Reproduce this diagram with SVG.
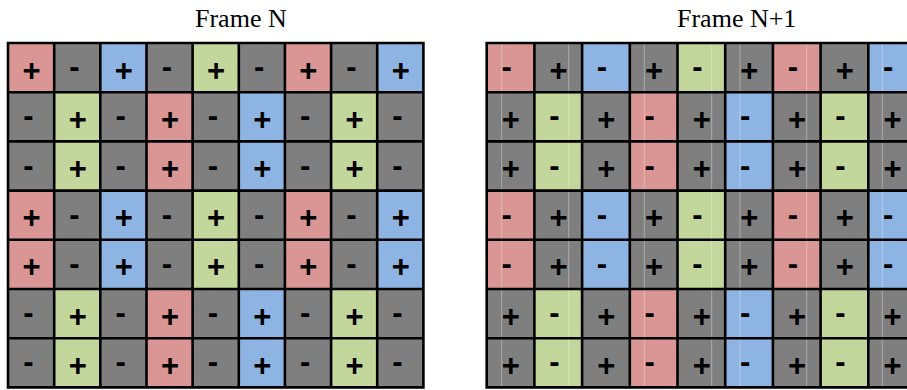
<svg xmlns="http://www.w3.org/2000/svg" width="907" height="390" viewBox="0 0 907 390">
<style>
.r{fill:#D99694}.g{fill:#7F7F7F}.b{fill:#8EB4E3}.n{fill:#C3D69B}
.s{font-family:"Liberation Sans",Arial,sans-serif;font-size:31px;font-weight:bold;fill:#000;text-anchor:middle}
.t{font-family:"Liberation Serif","Times New Roman",serif;font-size:26px;fill:#000}
.grid{stroke:#000;stroke-width:2.6;fill:none}
.art{stroke:#fff;stroke-opacity:0.35;stroke-width:1}
</style>
<rect width="907" height="390" fill="#fff"/>
<text class="t" x="195" y="27">Frame N</text>
<text class="t" x="677" y="27">Frame N+1</text>

<g id="frameN">
<g id="L11" transform="translate(8,43)"><rect class="r" width="46.2" height="49.2"/><text class="s" x="23.5" y="37.5">+</text></g>
<g id="L12" transform="translate(54.2,43)"><rect class="g" width="46.2" height="49.2"/><text class="s" x="20.3" y="34.3">-</text></g>
<g id="L13" transform="translate(100.3,43)"><rect class="b" width="46.2" height="49.2"/><text class="s" x="23.5" y="37.5">+</text></g>
<g id="L14" transform="translate(146.5,43)"><rect class="g" width="46.2" height="49.2"/><text class="s" x="20.3" y="34.3">-</text></g>
<g id="L15" transform="translate(192.6,43)"><rect class="n" width="46.2" height="49.2"/><text class="s" x="23.5" y="37.5">+</text></g>
<g id="L16" transform="translate(238.8,43)"><rect class="g" width="46.2" height="49.2"/><text class="s" x="20.3" y="34.3">-</text></g>
<g id="L17" transform="translate(284.9,43)"><rect class="r" width="46.2" height="49.2"/><text class="s" x="23.5" y="37.5">+</text></g>
<g id="L18" transform="translate(331.1,43)"><rect class="g" width="46.2" height="49.2"/><text class="s" x="20.3" y="34.3">-</text></g>
<g id="L19" transform="translate(377.2,43)"><rect class="b" width="46.2" height="49.2"/><text class="s" x="23.5" y="37.5">+</text></g>

<g id="L21" transform="translate(8,92.2)"><rect class="g" width="46.2" height="49.2"/><text class="s" x="20.3" y="34.3">-</text></g>
<g id="L22" transform="translate(54.2,92.2)"><rect class="n" width="46.2" height="49.2"/><text class="s" x="23.5" y="37.5">+</text></g>
<g id="L23" transform="translate(100.3,92.2)"><rect class="g" width="46.2" height="49.2"/><text class="s" x="20.3" y="34.3">-</text></g>
<g id="L24" transform="translate(146.5,92.2)"><rect class="r" width="46.2" height="49.2"/><text class="s" x="23.5" y="37.5">+</text></g>
<g id="L25" transform="translate(192.6,92.2)"><rect class="g" width="46.2" height="49.2"/><text class="s" x="20.3" y="34.3">-</text></g>
<g id="L26" transform="translate(238.8,92.2)"><rect class="b" width="46.2" height="49.2"/><text class="s" x="23.5" y="37.5">+</text></g>
<g id="L27" transform="translate(284.9,92.2)"><rect class="g" width="46.2" height="49.2"/><text class="s" x="20.3" y="34.3">-</text></g>
<g id="L28" transform="translate(331.1,92.2)"><rect class="n" width="46.2" height="49.2"/><text class="s" x="23.5" y="37.5">+</text></g>
<g id="L29" transform="translate(377.2,92.2)"><rect class="g" width="46.2" height="49.2"/><text class="s" x="20.3" y="34.3">-</text></g>

<g id="L31" transform="translate(8,141.4)"><rect class="g" width="46.2" height="49.2"/><text class="s" x="20.3" y="34.3">-</text></g>
<g id="L32" transform="translate(54.2,141.4)"><rect class="n" width="46.2" height="49.2"/><text class="s" x="23.5" y="37.5">+</text></g>
<g id="L33" transform="translate(100.3,141.4)"><rect class="g" width="46.2" height="49.2"/><text class="s" x="20.3" y="34.3">-</text></g>
<g id="L34" transform="translate(146.5,141.4)"><rect class="r" width="46.2" height="49.2"/><text class="s" x="23.5" y="37.5">+</text></g>
<g id="L35" transform="translate(192.6,141.4)"><rect class="g" width="46.2" height="49.2"/><text class="s" x="20.3" y="34.3">-</text></g>
<g id="L36" transform="translate(238.8,141.4)"><rect class="b" width="46.2" height="49.2"/><text class="s" x="23.5" y="37.5">+</text></g>
<g id="L37" transform="translate(284.9,141.4)"><rect class="g" width="46.2" height="49.2"/><text class="s" x="20.3" y="34.3">-</text></g>
<g id="L38" transform="translate(331.1,141.4)"><rect class="n" width="46.2" height="49.2"/><text class="s" x="23.5" y="37.5">+</text></g>
<g id="L39" transform="translate(377.2,141.4)"><rect class="g" width="46.2" height="49.2"/><text class="s" x="20.3" y="34.3">-</text></g>

<g id="L41" transform="translate(8,190.6)"><rect class="r" width="46.2" height="49.2"/><text class="s" x="23.5" y="37.5">+</text></g>
<g id="L42" transform="translate(54.2,190.6)"><rect class="g" width="46.2" height="49.2"/><text class="s" x="20.3" y="34.3">-</text></g>
<g id="L43" transform="translate(100.3,190.6)"><rect class="b" width="46.2" height="49.2"/><text class="s" x="23.5" y="37.5">+</text></g>
<g id="L44" transform="translate(146.5,190.6)"><rect class="g" width="46.2" height="49.2"/><text class="s" x="20.3" y="34.3">-</text></g>
<g id="L45" transform="translate(192.6,190.6)"><rect class="n" width="46.2" height="49.2"/><text class="s" x="23.5" y="37.5">+</text></g>
<g id="L46" transform="translate(238.8,190.6)"><rect class="g" width="46.2" height="49.2"/><text class="s" x="20.3" y="34.3">-</text></g>
<g id="L47" transform="translate(284.9,190.6)"><rect class="r" width="46.2" height="49.2"/><text class="s" x="23.5" y="37.5">+</text></g>
<g id="L48" transform="translate(331.1,190.6)"><rect class="g" width="46.2" height="49.2"/><text class="s" x="20.3" y="34.3">-</text></g>
<g id="L49" transform="translate(377.2,190.6)"><rect class="b" width="46.2" height="49.2"/><text class="s" x="23.5" y="37.5">+</text></g>

<g id="L51" transform="translate(8,239.8)"><rect class="r" width="46.2" height="49.2"/><text class="s" x="23.5" y="37.5">+</text></g>
<g id="L52" transform="translate(54.2,239.8)"><rect class="g" width="46.2" height="49.2"/><text class="s" x="20.3" y="34.3">-</text></g>
<g id="L53" transform="translate(100.3,239.8)"><rect class="b" width="46.2" height="49.2"/><text class="s" x="23.5" y="37.5">+</text></g>
<g id="L54" transform="translate(146.5,239.8)"><rect class="g" width="46.2" height="49.2"/><text class="s" x="20.3" y="34.3">-</text></g>
<g id="L55" transform="translate(192.6,239.8)"><rect class="n" width="46.2" height="49.2"/><text class="s" x="23.5" y="37.5">+</text></g>
<g id="L56" transform="translate(238.8,239.8)"><rect class="g" width="46.2" height="49.2"/><text class="s" x="20.3" y="34.3">-</text></g>
<g id="L57" transform="translate(284.9,239.8)"><rect class="r" width="46.2" height="49.2"/><text class="s" x="23.5" y="37.5">+</text></g>
<g id="L58" transform="translate(331.1,239.8)"><rect class="g" width="46.2" height="49.2"/><text class="s" x="20.3" y="34.3">-</text></g>
<g id="L59" transform="translate(377.2,239.8)"><rect class="b" width="46.2" height="49.2"/><text class="s" x="23.5" y="37.5">+</text></g>

<g id="L61" transform="translate(8,289)"><rect class="g" width="46.2" height="49.2"/><text class="s" x="20.3" y="34.3">-</text></g>
<g id="L62" transform="translate(54.2,289)"><rect class="n" width="46.2" height="49.2"/><text class="s" x="23.5" y="37.5">+</text></g>
<g id="L63" transform="translate(100.3,289)"><rect class="g" width="46.2" height="49.2"/><text class="s" x="20.3" y="34.3">-</text></g>
<g id="L64" transform="translate(146.5,289)"><rect class="r" width="46.2" height="49.2"/><text class="s" x="23.5" y="37.5">+</text></g>
<g id="L65" transform="translate(192.6,289)"><rect class="g" width="46.2" height="49.2"/><text class="s" x="20.3" y="34.3">-</text></g>
<g id="L66" transform="translate(238.8,289)"><rect class="b" width="46.2" height="49.2"/><text class="s" x="23.5" y="37.5">+</text></g>
<g id="L67" transform="translate(284.9,289)"><rect class="g" width="46.2" height="49.2"/><text class="s" x="20.3" y="34.3">-</text></g>
<g id="L68" transform="translate(331.1,289)"><rect class="n" width="46.2" height="49.2"/><text class="s" x="23.5" y="37.5">+</text></g>
<g id="L69" transform="translate(377.2,289)"><rect class="g" width="46.2" height="49.2"/><text class="s" x="20.3" y="34.3">-</text></g>

<g id="L71" transform="translate(8,338.2)"><rect class="g" width="46.2" height="49.2"/><text class="s" x="20.3" y="34.3">-</text></g>
<g id="L72" transform="translate(54.2,338.2)"><rect class="n" width="46.2" height="49.2"/><text class="s" x="23.5" y="37.5">+</text></g>
<g id="L73" transform="translate(100.3,338.2)"><rect class="g" width="46.2" height="49.2"/><text class="s" x="20.3" y="34.3">-</text></g>
<g id="L74" transform="translate(146.5,338.2)"><rect class="r" width="46.2" height="49.2"/><text class="s" x="23.5" y="37.5">+</text></g>
<g id="L75" transform="translate(192.6,338.2)"><rect class="g" width="46.2" height="49.2"/><text class="s" x="20.3" y="34.3">-</text></g>
<g id="L76" transform="translate(238.8,338.2)"><rect class="b" width="46.2" height="49.2"/><text class="s" x="23.5" y="37.5">+</text></g>
<g id="L77" transform="translate(284.9,338.2)"><rect class="g" width="46.2" height="49.2"/><text class="s" x="20.3" y="34.3">-</text></g>
<g id="L78" transform="translate(331.1,338.2)"><rect class="n" width="46.2" height="49.2"/><text class="s" x="23.5" y="37.5">+</text></g>
<g id="L79" transform="translate(377.2,338.2)"><rect class="g" width="46.2" height="49.2"/><text class="s" x="20.3" y="34.3">-</text></g>
</g>

<g id="frameN1">
<g id="R11" transform="translate(486.7,43)"><rect class="r" width="47.7" height="49.2"/><text class="s" x="19.9" y="34.3">-</text></g>
<g id="R12" transform="translate(534.4,43)"><rect class="g" width="47.7" height="49.2"/><text class="s" x="24.2" y="37.5">+</text></g>
<g id="R13" transform="translate(582.1,43)"><rect class="b" width="47.7" height="49.2"/><text class="s" x="19.9" y="34.3">-</text></g>
<g id="R14" transform="translate(629.8,43)"><rect class="g" width="47.7" height="49.2"/><text class="s" x="24.2" y="37.5">+</text></g>
<g id="R15" transform="translate(677.5,43)"><rect class="n" width="47.7" height="49.2"/><text class="s" x="19.9" y="34.3">-</text></g>
<g id="R16" transform="translate(725.2,43)"><rect class="g" width="47.7" height="49.2"/><text class="s" x="24.2" y="37.5">+</text></g>
<g id="R17" transform="translate(772.9,43)"><rect class="r" width="47.7" height="49.2"/><text class="s" x="19.9" y="34.3">-</text></g>
<g id="R18" transform="translate(820.6,43)"><rect class="g" width="47.7" height="49.2"/><text class="s" x="24.2" y="37.5">+</text></g>
<g id="R19" transform="translate(868.3,43)"><rect class="b" width="47.7" height="49.2"/><text class="s" x="19.9" y="34.3">-</text></g>

<g id="R21" transform="translate(486.7,92.2)"><rect class="g" width="47.7" height="49.2"/><text class="s" x="24.2" y="37.5">+</text></g>
<g id="R22" transform="translate(534.4,92.2)"><rect class="n" width="47.7" height="49.2"/><text class="s" x="19.9" y="34.3">-</text></g>
<g id="R23" transform="translate(582.1,92.2)"><rect class="g" width="47.7" height="49.2"/><text class="s" x="24.2" y="37.5">+</text></g>
<g id="R24" transform="translate(629.8,92.2)"><rect class="r" width="47.7" height="49.2"/><text class="s" x="19.9" y="34.3">-</text></g>
<g id="R25" transform="translate(677.5,92.2)"><rect class="g" width="47.7" height="49.2"/><text class="s" x="24.2" y="37.5">+</text></g>
<g id="R26" transform="translate(725.2,92.2)"><rect class="b" width="47.7" height="49.2"/><text class="s" x="19.9" y="34.3">-</text></g>
<g id="R27" transform="translate(772.9,92.2)"><rect class="g" width="47.7" height="49.2"/><text class="s" x="24.2" y="37.5">+</text></g>
<g id="R28" transform="translate(820.6,92.2)"><rect class="n" width="47.7" height="49.2"/><text class="s" x="19.9" y="34.3">-</text></g>
<g id="R29" transform="translate(868.3,92.2)"><rect class="g" width="47.7" height="49.2"/><text class="s" x="24.2" y="37.5">+</text></g>

<g id="R31" transform="translate(486.7,141.4)"><rect class="g" width="47.7" height="49.2"/><text class="s" x="24.2" y="37.5">+</text></g>
<g id="R32" transform="translate(534.4,141.4)"><rect class="n" width="47.7" height="49.2"/><text class="s" x="19.9" y="34.3">-</text></g>
<g id="R33" transform="translate(582.1,141.4)"><rect class="g" width="47.7" height="49.2"/><text class="s" x="24.2" y="37.5">+</text></g>
<g id="R34" transform="translate(629.8,141.4)"><rect class="r" width="47.7" height="49.2"/><text class="s" x="19.9" y="34.3">-</text></g>
<g id="R35" transform="translate(677.5,141.4)"><rect class="g" width="47.7" height="49.2"/><text class="s" x="24.2" y="37.5">+</text></g>
<g id="R36" transform="translate(725.2,141.4)"><rect class="b" width="47.7" height="49.2"/><text class="s" x="19.9" y="34.3">-</text></g>
<g id="R37" transform="translate(772.9,141.4)"><rect class="g" width="47.7" height="49.2"/><text class="s" x="24.2" y="37.5">+</text></g>
<g id="R38" transform="translate(820.6,141.4)"><rect class="n" width="47.7" height="49.2"/><text class="s" x="19.9" y="34.3">-</text></g>
<g id="R39" transform="translate(868.3,141.4)"><rect class="g" width="47.7" height="49.2"/><text class="s" x="24.2" y="37.5">+</text></g>

<g id="R41" transform="translate(486.7,190.6)"><rect class="r" width="47.7" height="49.2"/><text class="s" x="19.9" y="34.3">-</text></g>
<g id="R42" transform="translate(534.4,190.6)"><rect class="g" width="47.7" height="49.2"/><text class="s" x="24.2" y="37.5">+</text></g>
<g id="R43" transform="translate(582.1,190.6)"><rect class="b" width="47.7" height="49.2"/><text class="s" x="19.9" y="34.3">-</text></g>
<g id="R44" transform="translate(629.8,190.6)"><rect class="g" width="47.7" height="49.2"/><text class="s" x="24.2" y="37.5">+</text></g>
<g id="R45" transform="translate(677.5,190.6)"><rect class="n" width="47.7" height="49.2"/><text class="s" x="19.9" y="34.3">-</text></g>
<g id="R46" transform="translate(725.2,190.6)"><rect class="g" width="47.7" height="49.2"/><text class="s" x="24.2" y="37.5">+</text></g>
<g id="R47" transform="translate(772.9,190.6)"><rect class="r" width="47.7" height="49.2"/><text class="s" x="19.9" y="34.3">-</text></g>
<g id="R48" transform="translate(820.6,190.6)"><rect class="g" width="47.7" height="49.2"/><text class="s" x="24.2" y="37.5">+</text></g>
<g id="R49" transform="translate(868.3,190.6)"><rect class="b" width="47.7" height="49.2"/><text class="s" x="19.9" y="34.3">-</text></g>

<g id="R51" transform="translate(486.7,239.8)"><rect class="r" width="47.7" height="49.2"/><text class="s" x="19.9" y="34.3">-</text></g>
<g id="R52" transform="translate(534.4,239.8)"><rect class="g" width="47.7" height="49.2"/><text class="s" x="24.2" y="37.5">+</text></g>
<g id="R53" transform="translate(582.1,239.8)"><rect class="b" width="47.7" height="49.2"/><text class="s" x="19.9" y="34.3">-</text></g>
<g id="R54" transform="translate(629.8,239.8)"><rect class="g" width="47.7" height="49.2"/><text class="s" x="24.2" y="37.5">+</text></g>
<g id="R55" transform="translate(677.5,239.8)"><rect class="n" width="47.7" height="49.2"/><text class="s" x="19.9" y="34.3">-</text></g>
<g id="R56" transform="translate(725.2,239.8)"><rect class="g" width="47.7" height="49.2"/><text class="s" x="24.2" y="37.5">+</text></g>
<g id="R57" transform="translate(772.9,239.8)"><rect class="r" width="47.7" height="49.2"/><text class="s" x="19.9" y="34.3">-</text></g>
<g id="R58" transform="translate(820.6,239.8)"><rect class="g" width="47.7" height="49.2"/><text class="s" x="24.2" y="37.5">+</text></g>
<g id="R59" transform="translate(868.3,239.8)"><rect class="b" width="47.7" height="49.2"/><text class="s" x="19.9" y="34.3">-</text></g>

<g id="R61" transform="translate(486.7,289)"><rect class="g" width="47.7" height="49.2"/><text class="s" x="24.2" y="37.5">+</text></g>
<g id="R62" transform="translate(534.4,289)"><rect class="n" width="47.7" height="49.2"/><text class="s" x="19.9" y="34.3">-</text></g>
<g id="R63" transform="translate(582.1,289)"><rect class="g" width="47.7" height="49.2"/><text class="s" x="24.2" y="37.5">+</text></g>
<g id="R64" transform="translate(629.8,289)"><rect class="r" width="47.7" height="49.2"/><text class="s" x="19.9" y="34.3">-</text></g>
<g id="R65" transform="translate(677.5,289)"><rect class="g" width="47.7" height="49.2"/><text class="s" x="24.2" y="37.5">+</text></g>
<g id="R66" transform="translate(725.2,289)"><rect class="b" width="47.7" height="49.2"/><text class="s" x="19.9" y="34.3">-</text></g>
<g id="R67" transform="translate(772.9,289)"><rect class="g" width="47.7" height="49.2"/><text class="s" x="24.2" y="37.5">+</text></g>
<g id="R68" transform="translate(820.6,289)"><rect class="n" width="47.7" height="49.2"/><text class="s" x="19.9" y="34.3">-</text></g>
<g id="R69" transform="translate(868.3,289)"><rect class="g" width="47.7" height="49.2"/><text class="s" x="24.2" y="37.5">+</text></g>

<g id="R71" transform="translate(486.7,338.2)"><rect class="g" width="47.7" height="49.2"/><text class="s" x="24.2" y="37.5">+</text></g>
<g id="R72" transform="translate(534.4,338.2)"><rect class="n" width="47.7" height="49.2"/><text class="s" x="19.9" y="34.3">-</text></g>
<g id="R73" transform="translate(582.1,338.2)"><rect class="g" width="47.7" height="49.2"/><text class="s" x="24.2" y="37.5">+</text></g>
<g id="R74" transform="translate(629.8,338.2)"><rect class="r" width="47.7" height="49.2"/><text class="s" x="19.9" y="34.3">-</text></g>
<g id="R75" transform="translate(677.5,338.2)"><rect class="g" width="47.7" height="49.2"/><text class="s" x="24.2" y="37.5">+</text></g>
<g id="R76" transform="translate(725.2,338.2)"><rect class="b" width="47.7" height="49.2"/><text class="s" x="19.9" y="34.3">-</text></g>
<g id="R77" transform="translate(772.9,338.2)"><rect class="g" width="47.7" height="49.2"/><text class="s" x="24.2" y="37.5">+</text></g>
<g id="R78" transform="translate(820.6,338.2)"><rect class="n" width="47.7" height="49.2"/><text class="s" x="19.9" y="34.3">-</text></g>
<g id="R79" transform="translate(868.3,338.2)"><rect class="g" width="47.7" height="49.2"/><text class="s" x="24.2" y="37.5">+</text></g>
</g>

<g id="artifacts">
<line class="art" x1="501.7" y1="43" x2="501.7" y2="387.4"/>
<line class="art" x1="568.7" y1="43" x2="568.7" y2="387.4"/>
<line class="art" x1="644.3" y1="43" x2="644.3" y2="387.4"/>
<line class="art" x1="711.7" y1="43" x2="711.7" y2="387.4"/>
<line class="art" x1="740" y1="43" x2="740" y2="387.4"/>
<line class="art" x1="806.7" y1="43" x2="806.7" y2="387.4"/>
<line class="art" x1="882.3" y1="43" x2="882.3" y2="387.4"/>
</g>

<g id="gridlines">
<path class="grid" d="M8 43V387.4M54.2 43V387.4M100.3 43V387.4M146.5 43V387.4M192.6 43V387.4M238.8 43V387.4M284.9 43V387.4M331.1 43V387.4M377.2 43V387.4M423.4 43V387.4
M6.7 43H424.7M8 92.2H423.4M8 141.4H423.4M8 190.6H423.4M8 239.8H423.4M8 289H423.4M8 338.2H423.4M6.7 387.4H424.7"/>
<path class="grid" d="M486.7 43V387.4M534.4 43V387.4M582.1 43V387.4M629.8 43V387.4M677.5 43V387.4M725.2 43V387.4M772.9 43V387.4M820.6 43V387.4M868.3 43V387.4
M485.4 43H907M486.7 92.2H907M486.7 141.4H907M486.7 190.6H907M486.7 239.8H907M486.7 289H907M486.7 338.2H907M485.4 387.4H907"/>
</g>
</svg>
